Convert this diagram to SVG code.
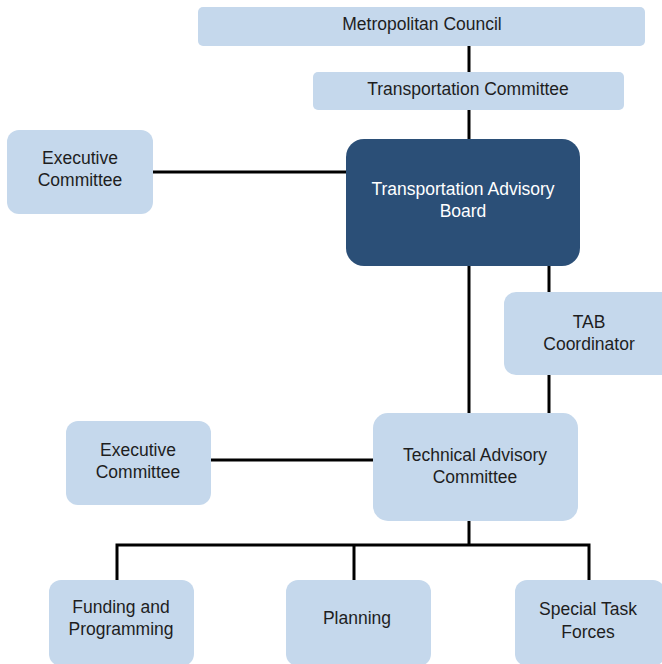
<svg xmlns="http://www.w3.org/2000/svg" width="662" height="664" viewBox="0 0 662 664">
<style>
.box{fill:#c5d8ec}
.dark{fill:#2b4f77}
.t{font-family:"Liberation Sans",Arial,sans-serif;font-size:17.5px;fill:#1e1e1e;text-anchor:middle}
.w{fill:#ffffff}
.c{stroke:#000;stroke-width:3;fill:none}
</style>
<rect width="662" height="664" fill="#fff"/>
<g id="connectors">
<line class="c" x1="469" y1="46" x2="469" y2="72"/>
<line class="c" x1="469" y1="110" x2="469" y2="139"/>
<line class="c" x1="153" y1="172" x2="346" y2="172"/>
<line class="c" x1="469" y1="266" x2="469" y2="413"/>
<line class="c" x1="549" y1="266" x2="549" y2="292"/>
<line class="c" x1="549" y1="375" x2="549" y2="413"/>
<line class="c" x1="211" y1="460" x2="373" y2="460"/>
<line class="c" x1="469" y1="521" x2="469" y2="545"/>
<polyline class="c" points="117,580 117,545 589,545 589,580"/>
<line class="c" x1="354" y1="545" x2="354" y2="580"/>
</g>
<g id="metropolitan-council">
<rect class="box" x="198" y="7" width="447" height="39" rx="5"/>
<text class="t" x="422" y="30">Metropolitan Council</text>
</g>
<g id="transportation-committee">
<rect class="box" x="313" y="72" width="311" height="38" rx="5"/>
<text class="t" x="468" y="95">Transportation Committee</text>
</g>
<g id="executive-committee-1">
<rect class="box" x="7" y="130" width="146" height="84" rx="12"/>
<text class="t" x="80" y="164">Executive</text>
<text class="t" x="80" y="186">Committee</text>
</g>
<g id="tab">
<rect class="dark" x="346" y="139" width="234" height="127" rx="18"/>
<text class="t w" x="463" y="195">Transportation Advisory</text>
<text class="t w" x="463" y="217">Board</text>
</g>
<g id="tab-coordinator">
<rect class="box" x="504" y="292" width="172" height="83" rx="12"/>
<text class="t" x="589" y="328">TAB</text>
<text class="t" x="589" y="350">Coordinator</text>
</g>
<g id="executive-committee-2">
<rect class="box" x="66" y="421" width="145" height="84" rx="12"/>
<text class="t" x="138" y="456">Executive</text>
<text class="t" x="138" y="478">Committee</text>
</g>
<g id="tac">
<rect class="box" x="373" y="413" width="205" height="108" rx="15"/>
<text class="t" x="475" y="461">Technical Advisory</text>
<text class="t" x="475" y="483">Committee</text>
</g>
<g id="funding">
<rect class="box" x="49" y="580" width="145" height="86" rx="12"/>
<text class="t" x="121" y="613">Funding and</text>
<text class="t" x="121" y="635">Programming</text>
</g>
<g id="planning">
<rect class="box" x="286" y="580" width="145" height="86" rx="12"/>
<text class="t" x="357" y="624">Planning</text>
</g>
<g id="special-task-forces">
<rect class="box" x="515" y="580" width="150" height="86" rx="12"/>
<text class="t" x="588" y="615">Special Task</text>
<text class="t" x="588" y="638">Forces</text>
</g>
</svg>
